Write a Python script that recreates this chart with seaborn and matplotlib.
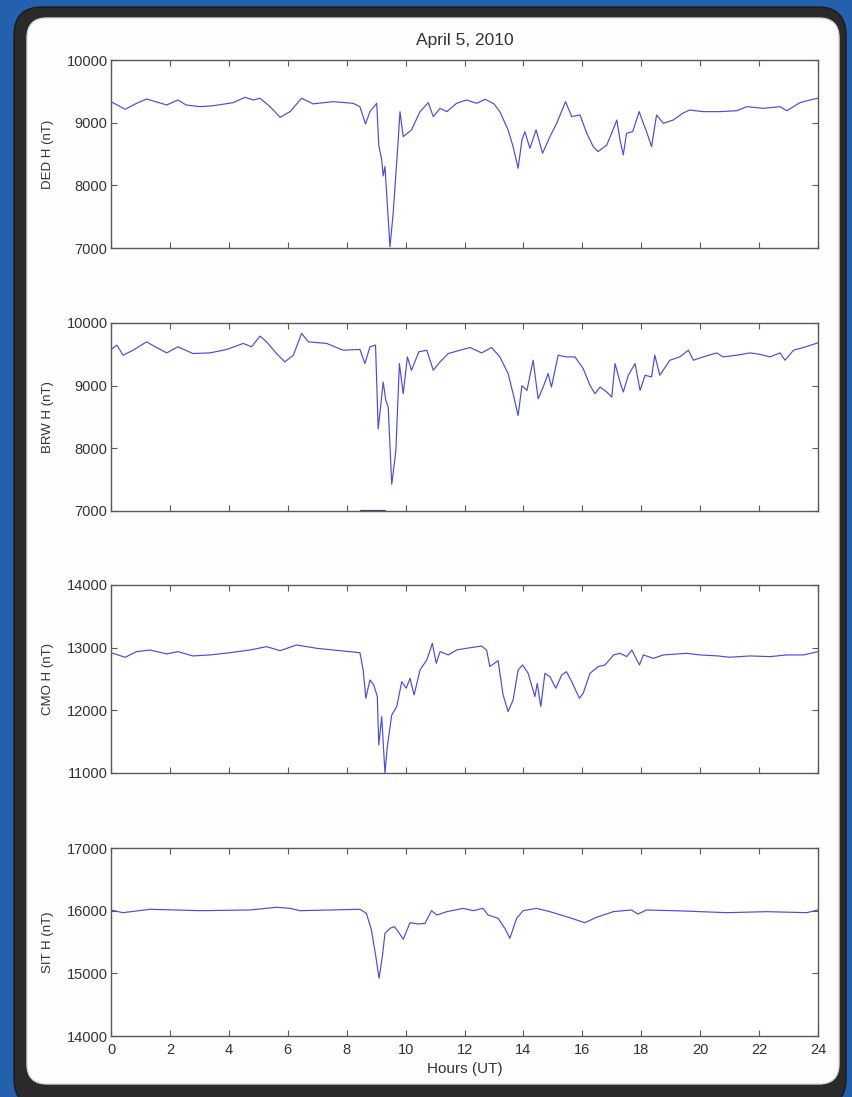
import numpy as np
import pandas as pd
import matplotlib
matplotlib.use("Agg")
import matplotlib.pyplot as plt
from matplotlib.patches import FancyBboxPatch
import seaborn as sns

# station H-component traces, April 5 2010
ded_hours = [0, 0.48, 0.87, 1.21, 1.55, 1.89, 2.27, 2.55, 3.02, 3.47, 4.15, 4.55, 4.84, 5.06, 5.4,
             5.74, 6.08, 6.47, 6.86, 7.54, 8.22, 8.45, 8.64, 8.79, 9.02, 9.09, 9.19, 9.24, 9.3, 9.47,
             9.58, 9.75, 9.81, 9.92, 10.2, 10.49, 10.77, 10.94, 11.17, 11.4, 11.73, 12.07, 12.41, 12.7,
             13.0, 13.2, 13.48, 13.65, 13.82, 13.95, 14.05, 14.22, 14.43, 14.65, 14.9, 15.13, 15.43,
             15.64, 15.92, 16.15, 16.37, 16.53, 16.83, 17.04, 17.17, 17.28, 17.39, 17.5, 17.71, 17.93,
             18.07, 18.18, 18.35, 18.52, 18.75, 19.09, 19.43, 19.65, 20.1, 20.67, 21.24, 21.58, 22.14,
             22.71, 22.94, 23.39, 23.73, 24]
ded_h = [9335, 9214, 9309, 9378, 9330, 9282, 9362, 9282, 9255, 9270, 9320, 9405, 9362, 9390, 9255,
         9086, 9176, 9390, 9300, 9335, 9309, 9255, 8979, 9176, 9309, 8644, 8405, 8150, 8300, 7020,
         7560, 8724, 9176, 8777, 8884, 9176, 9320, 9096, 9229, 9176, 9309, 9362, 9309, 9373,
         9300, 9176, 8884, 8617, 8272, 8724, 8857, 8590, 8884, 8511, 8777, 8990, 9335,
         9096, 9123, 8830, 8617, 8538, 8644, 8884, 9043, 8724, 8485, 8830, 8857, 9176,
         8990, 8857, 8617, 9123, 8990, 9043, 9157, 9202, 9176, 9176, 9190, 9255, 9229,
         9255, 9190, 9320, 9362, 9390]

brw_hours = [0, 0.2, 0.41, 0.75, 1.21, 1.44, 1.89, 2.27, 2.78, 3.36, 3.93, 4.49, 4.77, 5.06, 5.28,
             5.62, 5.9, 6.19, 6.47, 6.7, 7.32, 7.88, 8.45, 8.62, 8.79, 8.98, 9.07, 9.15, 9.24, 9.33,
             9.41, 9.53, 9.67, 9.79, 9.92, 10.06, 10.2, 10.45, 10.72, 10.94, 11.17, 11.45, 11.85,
             12.19, 12.58, 12.92, 13.2, 13.48, 13.65, 13.82, 13.95, 14.12, 14.33, 14.5, 14.67, 14.84,
             14.95, 15.18, 15.46, 15.75, 16.03, 16.26, 16.43, 16.6, 16.83, 17.0, 17.11, 17.28, 17.39,
             17.56, 17.79, 17.96, 18.13, 18.35, 18.46, 18.63, 18.97, 19.31, 19.6, 19.77, 20.1, 20.56,
             20.78, 21.24, 21.69, 22.03, 22.37, 22.71, 22.88, 23.17, 23.51, 24]
brw_h = [9578, 9647, 9486, 9566, 9700, 9636, 9523, 9620, 9513, 9523, 9578, 9674, 9620, 9791, 9700,
         9513, 9379, 9486, 9834, 9700, 9674, 9566, 9578, 9353, 9620, 9647, 8310, 8657, 9058, 8764,
         8657, 7427, 7961, 9353, 8871, 9459, 9246, 9540, 9566, 9246, 9379, 9513, 9566,
         9609, 9523, 9609, 9459, 9193, 8871, 8523, 9000, 8925, 9406, 8791, 8978, 9193,
         8978, 9486, 9459, 9459, 9272, 9005, 8871, 8978, 8898, 8818, 9353, 9058, 8898,
         9166, 9353, 8925, 9166, 9139, 9486, 9166, 9406, 9459, 9566, 9406, 9459, 9523,
         9459, 9486, 9523, 9500, 9459, 9523, 9406, 9566, 9609, 9684]
# short flat stretch sitting on the BRW axis floor
brw_gap_hours = [8.5, 9.3]
brw_gap_h = [7000, 7000]

cmo_hours = [0, 0.48, 0.87, 1.33, 1.89, 2.27, 2.78, 3.36, 4.04, 4.72, 5.28, 5.74, 6.3, 6.98, 7.54,
             8.45, 8.56, 8.65, 8.79, 8.92, 9.04, 9.09, 9.19, 9.3, 9.38, 9.53, 9.7, 9.87, 10.02, 10.15,
             10.29, 10.49, 10.72, 10.91, 11.04, 11.17, 11.45, 11.73, 12.07, 12.58, 12.75, 12.86, 13.14,
             13.31, 13.48, 13.65, 13.82, 13.97, 14.16, 14.39, 14.47, 14.59, 14.73, 14.9, 15.1, 15.3,
             15.46, 15.64, 15.9, 16.03, 16.26, 16.54, 16.77, 17.06, 17.28, 17.51, 17.68, 17.85, 17.94,
             18.07, 18.41, 18.75, 19.54, 19.99, 20.61, 21.0, 21.69, 22.37, 22.94, 23.51, 24]
cmo_h = [12920, 12847, 12937, 12963, 12900, 12937, 12868, 12884, 12920, 12963, 13016, 12952, 13043, 12990, 12963,
         12920, 12644, 12193, 12485, 12405, 12220, 11448, 11900, 11000, 11420, 11928, 12060, 12458, 12352, 12511,
         12246, 12644, 12804, 13070, 12750, 12937, 12884, 12963, 12990, 13026, 12963, 12698, 12793,
         12246, 11980, 12166, 12644, 12724, 12591, 12220, 12431, 12060, 12591, 12538, 12352, 12564,
         12617, 12458, 12193, 12272, 12591, 12698, 12724, 12884, 12910, 12857, 12963, 12804, 12724,
         12884, 12830, 12884, 12910, 12884, 12868, 12847, 12868, 12857, 12884, 12884, 12937]

sit_hours = [0, 0.4, 1.33, 3.03, 4.72, 5.62, 6.08, 6.41, 8.45, 8.67, 8.84, 8.99, 9.1, 9.21, 9.3, 9.47,
             9.62, 9.75, 9.92, 10.15, 10.43, 10.66, 10.88, 11.06, 11.4, 11.96, 12.3, 12.63, 12.8, 13.14,
             13.37, 13.54, 13.77, 13.99, 14.44, 14.9, 15.46, 16.09, 16.48, 17.05, 17.66, 17.89, 18.18,
             19.43, 20.9, 22.26, 23.62, 24]
sit_h = [16011, 15968, 16022, 16000, 16011, 16054, 16037, 16000, 16022, 15958, 15692, 15266, 14922, 15266, 15638, 15718,
         15745, 15665, 15543, 15808, 15787, 15798, 16000, 15931, 15984, 16037, 16000, 16037, 15931, 15878,
         15718, 15559, 15878, 16000, 16037, 15984, 15904, 15808, 15894, 15984, 16011, 15947, 16011,
         15995, 15968, 15984, 15968, 16011]

labels = ["DED H (nT)", "BRW H (nT)", "CMO H (nT)", "SIT H (nT)"]
ylims = [(7000, 10000), (7000, 10000), (11000, 14000), (14000, 17000)]
xticks = list(range(0, 25, 2))

sns.set_style("ticks")
plt.rcParams["font.family"] = ["Liberation Sans", "DejaVu Sans"]

W, H = 852, 1097
fig = plt.figure(figsize=(W / 100, H / 100), dpi=100)
fig.patch.set_facecolor("#2360ae")

# slide frame drawn on a pixel-space background axes
bg = fig.add_axes([0, 0, 1, 1], zorder=-10)
bg.set_xlim(0, W)
bg.set_ylim(H, 0)
bg.axis("off")
bg.add_patch(FancyBboxPatch((14, 7), 832, 1100, boxstyle="round,pad=0,rounding_size=28",
                            fc="#2a2a2a", ec="#1a1a1a", lw=1))
bg.add_patch(FancyBboxPatch((27, 18), 812, 1066, boxstyle="round,pad=0,rounding_size=20",
                            fc="#fdfdfd", ec="#d8d8d8", lw=1))

left, width = 111 / W, 707 / W
tops = [60, 323, 585, 848]
ph = 188

series = [(ded_hours, ded_h), (brw_hours, brw_h), (cmo_hours, cmo_h), (sit_hours, sit_h)]
line_color = "#4a4ae6"
axis_color = "#5a5a5a"
text_color = "#333333"

for i, ((hrs, vals), lab, yl) in enumerate(zip(series, labels, ylims)):
    ax = fig.add_axes([left, 1 - (tops[i] + ph) / H, width, ph / H])
    ax.set_facecolor("white")
    df = pd.DataFrame({"hour": hrs, "H": vals})
    sns.lineplot(data=df, x="hour", y="H", ax=ax, color=line_color, linewidth=0.85,
                 sort=False, estimator=None)
    if i == 1:
        sns.lineplot(x=brw_gap_hours, y=brw_gap_h, ax=ax, color="#444466", linewidth=1.6,
                     estimator=None)
    ax.set_xlim(0, 24)
    ax.set_ylim(*yl)
    ax.set_xticks(xticks)
    ax.set_yticks(np.arange(yl[0], yl[1] + 1, 1000))
    ax.tick_params(direction="in", length=4, width=0.8, color=axis_color,
                   top=True, right=True, labelsize=10.5, labelcolor=text_color, pad=2.5)
    ax.tick_params(axis="x", pad=5)
    for s in ax.spines.values():
        s.set_color(axis_color)
        s.set_linewidth(1.0)
    ax.set_ylabel(lab, fontsize=9.5, color=text_color)
    ax.yaxis.set_label_coords(-0.081, 0.5)
    if i < 3:
        ax.set_xlabel("")
        ax.set_xticklabels([])
    else:
        ax.set_xticklabels([str(t) for t in xticks])
        ax.set_xlabel("Hours (UT)", fontsize=11, color=text_color, labelpad=4)
    if i == 0:
        ax.set_title("April 5, 2010", fontsize=12.5, color=text_color, pad=11)

fig.savefig("out.png", dpi=100, facecolor=fig.get_facecolor())
